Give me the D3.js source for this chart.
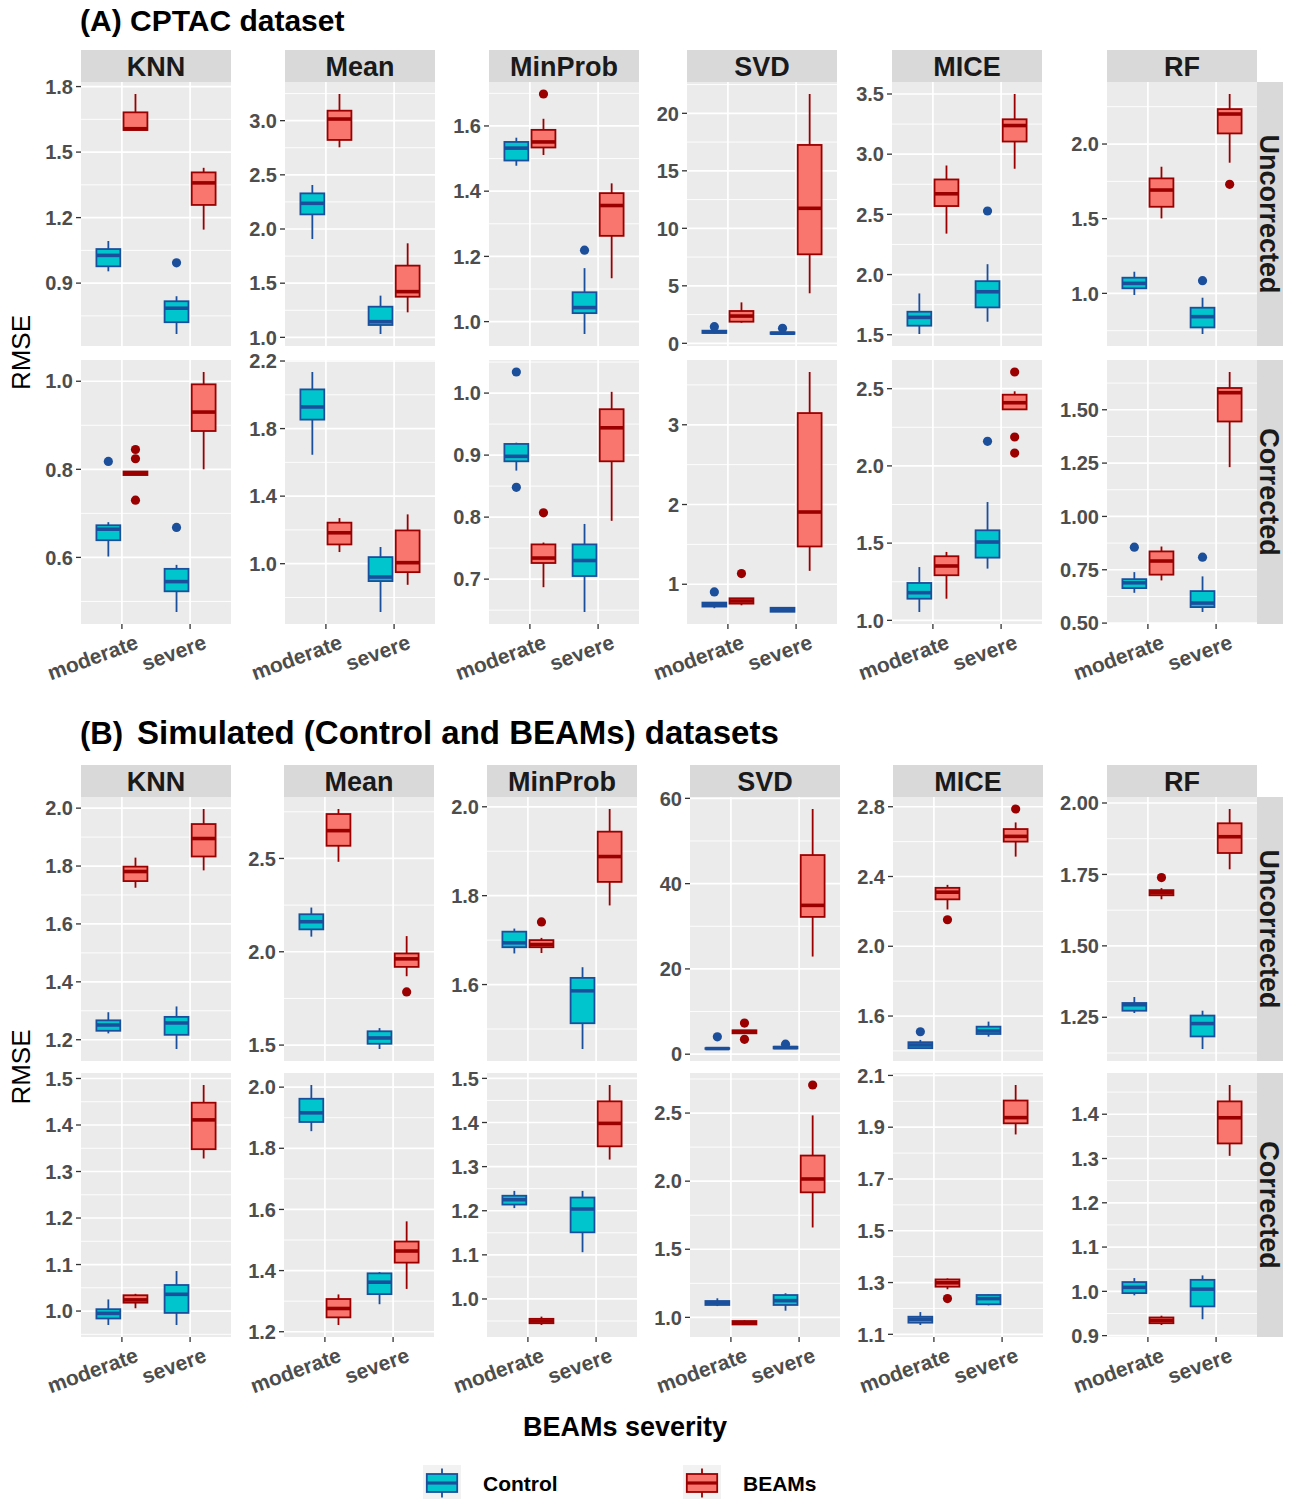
<!DOCTYPE html>
<html>
<head>
<meta charset="utf-8">
<script src="https://cdn.jsdelivr.net/npm/d3@7"></script>
<style>
  body { margin: 0; background: #ffffff; }
  text { font-family: "Liberation Sans", Arial, Helvetica, sans-serif; }
</style>
</head>
<body>
<svg id="chart" width="1293" height="1499"></svg>
<script>
// ---- categories ----
const methods = ["KNN", "Mean", "MinProb", "SVD", "MICE", "RF"];
const severities = ["moderate", "severe"];
const groups = ["Control", "BEAMs"];
const corrections = ["Uncorrected", "Corrected"];

// ---- box statistics: [method, severity, group, lowerWhisker, q1, median, q3, upperWhisker, outliers] ----
const cptacUncorrected = [
  ["KNN", "moderate", "Control", 0.954, 0.977, 1.027, 1.056, 1.093, []],
  ["KNN", "moderate", "BEAMs", 1.601, 1.601, 1.607, 1.682, 1.766, []],
  ["KNN", "severe", "Control", 0.667, 0.721, 0.785, 0.817, 0.840, [0.993]],
  ["KNN", "severe", "BEAMs", 1.145, 1.258, 1.359, 1.407, 1.428, []],
  ["Mean", "moderate", "Control", 1.908, 2.135, 2.237, 2.329, 2.406, []],
  ["Mean", "moderate", "BEAMs", 2.754, 2.822, 3.015, 3.092, 3.246, []],
  ["Mean", "severe", "Control", 1.031, 1.114, 1.145, 1.283, 1.385, []],
  ["Mean", "severe", "BEAMs", 1.231, 1.375, 1.422, 1.662, 1.868, []],
  ["MinProb", "moderate", "Control", 1.478, 1.494, 1.532, 1.551, 1.564, []],
  ["MinProb", "moderate", "BEAMs", 1.511, 1.534, 1.551, 1.588, 1.622, [1.698]],
  ["MinProb", "severe", "Control", 0.962, 1.026, 1.043, 1.090, 1.164, [1.219]],
  ["MinProb", "severe", "BEAMs", 1.133, 1.263, 1.356, 1.394, 1.424, []],
  ["SVD", "moderate", "Control", 0.85, 0.90, 1.00, 1.10, 1.20, [1.45]],
  ["SVD", "moderate", "BEAMs", 1.79, 1.88, 2.37, 2.81, 3.56, []],
  ["SVD", "severe", "Control", 0.81, 0.82, 0.88, 0.95, 1.00, [1.30]],
  ["SVD", "severe", "BEAMs", 4.35, 7.74, 11.74, 17.25, 21.68, []],
  ["MICE", "moderate", "Control", 1.506, 1.575, 1.644, 1.691, 1.843, []],
  ["MICE", "moderate", "BEAMs", 2.340, 2.569, 2.671, 2.790, 2.906, []],
  ["MICE", "severe", "Control", 1.608, 1.727, 1.857, 1.945, 2.086, [2.528]],
  ["MICE", "severe", "BEAMs", 2.879, 3.105, 3.238, 3.290, 3.500, []],
  ["RF", "moderate", "Control", 0.989, 1.034, 1.067, 1.105, 1.145, []],
  ["RF", "moderate", "BEAMs", 1.502, 1.580, 1.692, 1.770, 1.848, []],
  ["RF", "severe", "Control", 0.728, 0.772, 0.844, 0.904, 0.971, [1.085]],
  ["RF", "severe", "BEAMs", 1.875, 2.071, 2.201, 2.234, 2.335, [1.730]]
];

const cptacCorrected = [
  ["KNN", "moderate", "Control", 0.602, 0.639, 0.664, 0.673, 0.680, [0.818]],
  ["KNN", "moderate", "BEAMs", 0.787, 0.787, 0.791, 0.795, 0.795, [0.845, 0.824, 0.730]],
  ["KNN", "severe", "Control", 0.476, 0.523, 0.545, 0.574, 0.583, [0.668]],
  ["KNN", "severe", "BEAMs", 0.800, 0.887, 0.930, 0.993, 1.021, []],
  ["Mean", "moderate", "Control", 1.645, 1.853, 1.928, 2.032, 2.135, []],
  ["Mean", "moderate", "BEAMs", 1.069, 1.114, 1.183, 1.243, 1.270, []],
  ["Mean", "severe", "Control", 0.714, 0.897, 0.921, 1.039, 1.099, []],
  ["Mean", "severe", "BEAMs", 0.875, 0.950, 1.006, 1.197, 1.292, []],
  ["MinProb", "moderate", "Control", 0.875, 0.890, 0.898, 0.918, 0.920, [1.034, 0.848]],
  ["MinProb", "moderate", "BEAMs", 0.687, 0.726, 0.734, 0.756, 0.759, [0.807]],
  ["MinProb", "severe", "Control", 0.647, 0.705, 0.730, 0.756, 0.789, []],
  ["MinProb", "severe", "BEAMs", 0.794, 0.890, 0.944, 0.974, 1.002, []],
  ["SVD", "moderate", "Control", 0.700, 0.720, 0.745, 0.770, 0.775, [0.904]],
  ["SVD", "moderate", "BEAMs", 0.736, 0.757, 0.790, 0.824, 0.824, [1.134]],
  ["SVD", "severe", "Control", 0.652, 0.655, 0.680, 0.705, 0.707, []],
  ["SVD", "severe", "BEAMs", 1.168, 1.474, 1.906, 3.147, 3.662, []],
  ["MICE", "moderate", "Control", 1.054, 1.140, 1.179, 1.242, 1.345, []],
  ["MICE", "moderate", "BEAMs", 1.140, 1.292, 1.352, 1.415, 1.443, []],
  ["MICE", "severe", "Control", 1.335, 1.406, 1.507, 1.583, 1.766, [2.159]],
  ["MICE", "severe", "BEAMs", 2.366, 2.366, 2.409, 2.461, 2.483, [2.608, 2.187, 2.083]],
  ["RF", "moderate", "Control", 0.642, 0.664, 0.689, 0.706, 0.739, [0.856]],
  ["RF", "moderate", "BEAMs", 0.700, 0.727, 0.791, 0.836, 0.859, []],
  ["RF", "severe", "Control", 0.552, 0.575, 0.594, 0.650, 0.719, [0.809]],
  ["RF", "severe", "BEAMs", 1.231, 1.445, 1.580, 1.602, 1.677, []]
];

const simUncorrected = [
  ["KNN", "moderate", "Control", 1.222, 1.231, 1.251, 1.267, 1.295, []],
  ["KNN", "moderate", "BEAMs", 1.725, 1.748, 1.781, 1.798, 1.829, []],
  ["KNN", "severe", "Control", 1.168, 1.217, 1.258, 1.279, 1.315, []],
  ["KNN", "severe", "BEAMs", 1.785, 1.833, 1.895, 1.945, 1.997, []],
  ["Mean", "moderate", "Control", 2.081, 2.120, 2.161, 2.201, 2.237, []],
  ["Mean", "moderate", "BEAMs", 2.482, 2.568, 2.649, 2.738, 2.765, []],
  ["Mean", "severe", "Control", 1.479, 1.507, 1.538, 1.574, 1.591, []],
  ["Mean", "severe", "BEAMs", 1.869, 1.919, 1.962, 1.991, 2.084, [1.785]],
  ["MinProb", "moderate", "Control", 1.670, 1.684, 1.694, 1.719, 1.726, []],
  ["MinProb", "moderate", "BEAMs", 1.671, 1.684, 1.690, 1.700, 1.705, [1.741]],
  ["MinProb", "severe", "Control", 1.455, 1.513, 1.586, 1.615, 1.639, []],
  ["MinProb", "severe", "BEAMs", 1.778, 1.831, 1.888, 1.944, 1.995, []],
  ["SVD", "moderate", "Control", 1.22, 1.25, 1.32, 1.42, 1.50, [4.08]],
  ["SVD", "moderate", "BEAMs", 4.90, 4.90, 5.30, 5.60, 5.60, [7.30, 3.50]],
  ["SVD", "severe", "Control", 1.30, 1.35, 1.55, 1.75, 1.80, [2.35]],
  ["SVD", "severe", "BEAMs", 22.9, 32.2, 34.9, 46.7, 57.5, []],
  ["MICE", "moderate", "Control", 1.411, 1.416, 1.434, 1.450, 1.463, [1.510]],
  ["MICE", "moderate", "BEAMs", 2.211, 2.269, 2.310, 2.335, 2.352, [2.152]],
  ["MICE", "severe", "Control", 1.482, 1.497, 1.514, 1.539, 1.568, []],
  ["MICE", "severe", "BEAMs", 2.514, 2.600, 2.630, 2.672, 2.710, [2.787]],
  ["RF", "moderate", "Control", 1.265, 1.273, 1.294, 1.300, 1.321, []],
  ["RF", "moderate", "BEAMs", 1.663, 1.677, 1.686, 1.695, 1.702, [1.739]],
  ["RF", "severe", "Control", 1.139, 1.183, 1.228, 1.256, 1.273, []],
  ["RF", "severe", "BEAMs", 1.768, 1.825, 1.882, 1.929, 1.979, []]
];

const simCorrected = [
  ["KNN", "moderate", "Control", 0.970, 0.984, 0.995, 1.004, 1.025, []],
  ["KNN", "moderate", "BEAMs", 1.006, 1.018, 1.024, 1.034, 1.037, []],
  ["KNN", "severe", "Control", 0.970, 0.996, 1.036, 1.056, 1.086, []],
  ["KNN", "severe", "BEAMs", 1.328, 1.348, 1.411, 1.448, 1.486, []],
  ["Mean", "moderate", "Control", 1.856, 1.886, 1.916, 1.962, 2.007, []],
  ["Mean", "moderate", "BEAMs", 1.222, 1.247, 1.276, 1.307, 1.322, []],
  ["Mean", "severe", "Control", 1.290, 1.323, 1.362, 1.391, 1.395, []],
  ["Mean", "severe", "BEAMs", 1.340, 1.426, 1.464, 1.495, 1.561, []],
  ["MinProb", "moderate", "Control", 1.206, 1.214, 1.225, 1.234, 1.245, []],
  ["MinProb", "moderate", "BEAMs", 0.941, 0.945, 0.950, 0.955, 0.960, []],
  ["MinProb", "severe", "Control", 1.106, 1.151, 1.204, 1.230, 1.245, []],
  ["MinProb", "severe", "BEAMs", 1.316, 1.346, 1.398, 1.448, 1.485, []],
  ["SVD", "moderate", "Control", 1.083, 1.091, 1.108, 1.120, 1.140, []],
  ["SVD", "moderate", "BEAMs", 0.944, 0.948, 0.961, 0.973, 0.978, []],
  ["SVD", "severe", "Control", 1.049, 1.091, 1.123, 1.164, 1.177, []],
  ["SVD", "severe", "BEAMs", 1.660, 1.918, 2.016, 2.188, 2.483, [2.706]],
  ["MICE", "moderate", "Control", 1.136, 1.145, 1.158, 1.168, 1.186, []],
  ["MICE", "moderate", "BEAMs", 1.274, 1.284, 1.299, 1.312, 1.316, [1.238]],
  ["MICE", "severe", "Control", 1.212, 1.216, 1.238, 1.252, 1.254, []],
  ["MICE", "severe", "BEAMs", 1.872, 1.915, 1.937, 2.003, 2.063, []],
  ["RF", "moderate", "Control", 0.991, 0.996, 1.009, 1.021, 1.030, []],
  ["RF", "moderate", "BEAMs", 0.924, 0.928, 0.934, 0.941, 0.945, []],
  ["RF", "severe", "Control", 0.937, 0.966, 1.005, 1.026, 1.036, []],
  ["RF", "severe", "BEAMs", 1.306, 1.334, 1.392, 1.429, 1.466, []]
];

// ---- y tick labels, one list per method (KNN, Mean, MinProb, SVD, MICE, RF) ----
const cptacUncorrectedTicks = [
  ["0.9", "1.2", "1.5", "1.8"], ["1.0", "1.5", "2.0", "2.5", "3.0"], ["1.0", "1.2", "1.4", "1.6"],
  ["0", "5", "10", "15", "20"], ["1.5", "2.0", "2.5", "3.0", "3.5"], ["1.0", "1.5", "2.0"]
];
const cptacCorrectedTicks = [
  ["0.6", "0.8", "1.0"], ["1.0", "1.4", "1.8", "2.2"], ["0.7", "0.8", "0.9", "1.0"],
  ["1", "2", "3"], ["1.0", "1.5", "2.0", "2.5"], ["0.50", "0.75", "1.00", "1.25", "1.50"]
];
const simUncorrectedTicks = [
  ["1.2", "1.4", "1.6", "1.8", "2.0"], ["1.5", "2.0", "2.5"], ["1.6", "1.8", "2.0"],
  ["0", "20", "40", "60"], ["1.6", "2.0", "2.4", "2.8"], ["1.25", "1.50", "1.75", "2.00"]
];
const simCorrectedTicks = [
  ["1.0", "1.1", "1.2", "1.3", "1.4", "1.5"], ["1.2", "1.4", "1.6", "1.8", "2.0"],
  ["1.0", "1.1", "1.2", "1.3", "1.4", "1.5"], ["1.0", "1.5", "2.0", "2.5"],
  ["1.1", "1.3", "1.5", "1.7", "1.9", "2.1"], ["0.9", "1.0", "1.1", "1.2", "1.3", "1.4"]
];

// ---- styling ----
const fills = { Control: "#00C5CD", BEAMs: "#F8766D" };
const strokes = { Control: "#1B4F9C", BEAMs: "#9B0000" };
const panelW = 150, panelH = 264, stripH = 32;
const stripRightX = 1257, stripRightW = 26;

const svg = d3.select("#chart");

const leftsA = [81, 285, 489, 687, 892, 1107];
const leftsB = [81, 284, 487, 690, 893, 1107];

const blocks = [
  { rows: cptacUncorrected, ticks: cptacUncorrectedTicks, correction: corrections[0], top: 82, lefts: leftsA, strip: true, xlab: false },
  { rows: cptacCorrected, ticks: cptacCorrectedTicks, correction: corrections[1], top: 360, lefts: leftsA, strip: false, xlab: true },
  { rows: simUncorrected, ticks: simUncorrectedTicks, correction: corrections[0], top: 797, lefts: leftsB, strip: true, xlab: false },
  { rows: simCorrected, ticks: simCorrectedTicks, correction: corrections[1], top: 1073, lefts: leftsB, strip: false, xlab: true }
];

const x = d3.scalePoint().domain(severities).range([0, panelW]).padding(0.6);
const dodge = d3.scaleBand().domain(groups).range([-25.5, 25.5]).paddingInner(0.12);

blocks.forEach(block => {
  methods.forEach((m, mi) => {
    const rows = block.rows.filter(r => r[0] === m);
    const vals = rows.flatMap(r => [r[3], r[7], ...r[8]]);
    const lo = d3.min(vals), hi = d3.max(vals);
    const pad = (hi - lo) * 0.05;
    const y = d3.scaleLinear().domain([lo - pad, hi + pad]).range([panelH, 0]);

    const g = svg.append("g").attr("transform", `translate(${block.lefts[mi]},${block.top})`);
    g.append("rect").attr("width", panelW).attr("height", panelH).attr("fill", "#EBEBEB");

    const tickVals = block.ticks[mi].map(Number);
    const step = tickVals[1] - tickVals[0];
    const minors = [];
    for (let v = tickVals[0] - step / 2; v <= hi + pad; v += step) {
      if (v >= lo - pad) minors.push(v);
    }
    g.selectAll(".minor").data(minors).join("line")
      .attr("x1", 0).attr("x2", panelW)
      .attr("y1", d => y(d)).attr("y2", d => y(d))
      .attr("stroke", "#ffffff").attr("stroke-width", 0.9);
    g.selectAll(".major").data(tickVals).join("line")
      .attr("x1", 0).attr("x2", panelW)
      .attr("y1", d => y(d)).attr("y2", d => y(d))
      .attr("stroke", "#ffffff").attr("stroke-width", 1.7);
    g.selectAll(".vgrid").data(severities).join("line")
      .attr("x1", d => x(d)).attr("x2", d => x(d))
      .attr("y1", 0).attr("y2", panelH)
      .attr("stroke", "#ffffff").attr("stroke-width", 1.7);

    // y axis ticks and labels
    block.ticks[mi].forEach(lab => {
      const yy = y(+lab);
      g.append("line").attr("x1", -5).attr("x2", 0).attr("y1", yy).attr("y2", yy)
        .attr("stroke", "#333333").attr("stroke-width", 1.3);
      g.append("text").attr("x", -8).attr("y", yy).attr("dy", "0.36em")
        .attr("text-anchor", "end").attr("font-size", 20).attr("font-weight", "bold")
        .attr("fill", "#4D4D4D").text(lab);
    });

    // boxes
    rows.forEach(r => {
      const [, sev, grp, wLo, q1, med, q3, wHi, outs] = r;
      const cx = x(sev) + dodge(grp) + dodge.bandwidth() / 2;
      const bw = dodge.bandwidth();
      const col = strokes[grp];
      g.append("line").attr("x1", cx).attr("x2", cx).attr("y1", y(q3)).attr("y2", y(wHi))
        .attr("stroke", col).attr("stroke-width", 1.8);
      g.append("line").attr("x1", cx).attr("x2", cx).attr("y1", y(q1)).attr("y2", y(wLo))
        .attr("stroke", col).attr("stroke-width", 1.8);
      g.append("rect").attr("x", cx - bw / 2).attr("width", bw)
        .attr("y", y(q3)).attr("height", Math.max(0.5, y(q1) - y(q3)))
        .attr("fill", fills[grp]).attr("stroke", col).attr("stroke-width", 1.8);
      g.append("line").attr("x1", cx - bw / 2).attr("x2", cx + bw / 2)
        .attr("y1", y(med)).attr("y2", y(med))
        .attr("stroke", col).attr("stroke-width", 3.6);
      outs.forEach(o => {
        g.append("circle").attr("cx", cx).attr("cy", y(o)).attr("r", 4.6).attr("fill", col);
      });
    });

    // column strip
    if (block.strip) {
      g.append("rect").attr("y", -stripH).attr("width", panelW).attr("height", stripH).attr("fill", "#D9D9D9");
      g.append("text").attr("x", panelW / 2).attr("y", -stripH / 2).attr("dy", "0.36em")
        .attr("text-anchor", "middle").attr("font-size", 27).attr("font-weight", "bold")
        .attr("fill", "#1A1A1A").text(m);
    }

    // x axis
    if (block.xlab) {
      severities.forEach(s => {
        g.append("line").attr("x1", x(s)).attr("x2", x(s)).attr("y1", panelH).attr("y2", panelH + 5)
          .attr("stroke", "#333333").attr("stroke-width", 1.3);
        g.append("text")
          .attr("transform", `translate(${x(s) + 15},${panelH + 17}) rotate(-20)`)
          .attr("dy", "0.36em").attr("text-anchor", "end")
          .attr("font-size", 21).attr("font-weight", "bold").attr("fill", "#4D4D4D").text(s);
      });
    }
  });

  // row strip on the right
  const rs = svg.append("g").attr("transform", `translate(${stripRightX},${block.top})`);
  rs.append("rect").attr("width", stripRightW).attr("height", panelH).attr("fill", "#D9D9D9");
  rs.append("text").attr("transform", `translate(${stripRightW / 2},${panelH / 2}) rotate(90)`)
    .attr("dy", "0.36em").attr("text-anchor", "middle")
    .attr("font-size", 27).attr("font-weight", "bold").attr("fill", "#1A1A1A").text(block.correction);
});

// section titles
svg.append("text").attr("x", 80).attr("y", 31).attr("font-size", 30).attr("font-weight", "bold")
  .attr("fill", "#000").text("(A) CPTAC dataset");
svg.append("text").attr("x", 80).attr("y", 744).attr("font-size", 31).attr("font-weight", "bold")
  .attr("fill", "#000").text("(B)");
svg.append("text").attr("x", 137).attr("y", 744).attr("font-size", 33).attr("font-weight", "bold")
  .attr("fill", "#000").text("Simulated (Control and BEAMs) datasets");

// y axis titles
[[82, 623], [797, 1337]].forEach(([t, b]) => {
  svg.append("text").attr("transform", `translate(30,${(t + b) / 2}) rotate(-90)`)
    .attr("text-anchor", "middle").attr("font-size", 26).attr("fill", "#000").text("RMSE");
});

// x axis title
svg.append("text").attr("x", 625).attr("y", 1436).attr("text-anchor", "middle")
  .attr("font-size", 27).attr("font-weight", "bold").attr("fill", "#000").text("BEAMs severity");

// legend
const legendX = [423, 683];
groups.forEach((grp, i) => {
  const lg = svg.append("g").attr("transform", `translate(${legendX[i]},1465)`);
  const kw = 38, kh = 36;
  lg.append("rect").attr("width", kw).attr("height", kh).attr("fill", "#F2F2F2");
  lg.append("line").attr("x1", kw / 2).attr("x2", kw / 2).attr("y1", kh * 0.1).attr("y2", kh * 0.9)
    .attr("stroke", strokes[grp]).attr("stroke-width", 1.8);
  lg.append("rect").attr("x", kw * 0.1).attr("y", kh * 0.25).attr("width", kw * 0.8).attr("height", kh * 0.5)
    .attr("fill", fills[grp]).attr("stroke", strokes[grp]).attr("stroke-width", 1.8);
  lg.append("line").attr("x1", kw * 0.1).attr("x2", kw * 0.9).attr("y1", kh / 2).attr("y2", kh / 2)
    .attr("stroke", strokes[grp]).attr("stroke-width", 3.2);
  lg.append("text").attr("x", 60).attr("y", kh / 2).attr("dy", "0.36em")
    .attr("font-size", 21).attr("font-weight", "bold").attr("fill", "#000").text(grp);
});
</script>
</body>
</html>
